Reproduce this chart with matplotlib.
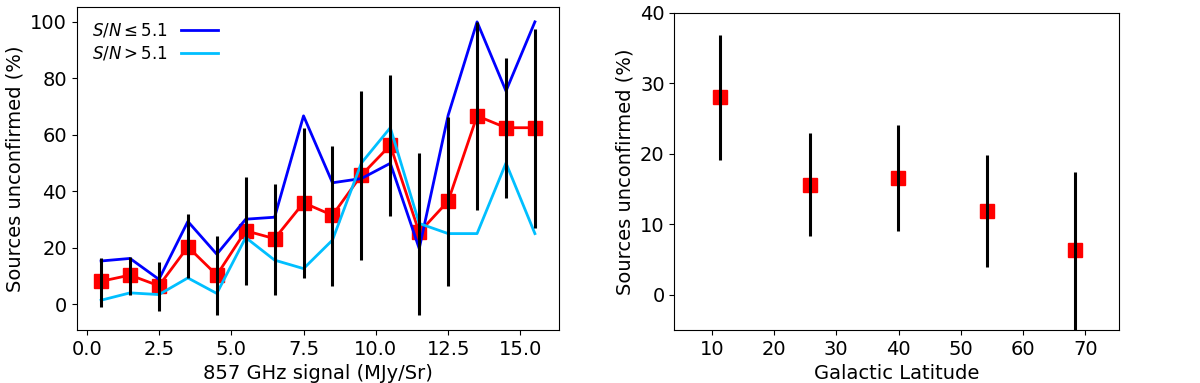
import numpy as np
import matplotlib
matplotlib.use('Agg')
import matplotlib.pyplot as plt

# левая панель: доля неподтверждённых источников по сигналу 857 ГГц
signal = [0.5, 1.5, 2.5, 3.5, 4.5, 5.5, 6.5, 7.5, 8.5, 9.5, 10.5, 11.5, 12.5, 13.5, 14.5, 15.5]
frac_all = [8.1, 10.3, 6.5, 20.3, 10.3, 26.0, 23.2, 35.9, 31.5, 45.7, 56.3, 25.4, 36.5, 66.7, 62.5, 62.5]
err_hi = [16.5, 16.8, 15.0, 31.9, 24.1, 45.1, 42.7, 62.4, 56.2, 75.5, 81.1, 53.7, 66.3, 99.9, 87.3, 97.6]
err_lo = [-0.9, 3.2, -2.5, 9.4, -3.9, 6.7, 3.4, 9.1, 6.4, 15.6, 31.3, -3.7, 6.4, 33.3, 37.6, 27.1]
frac_low_sn = [15.3, 16.2, 8.8, 29.3, 17.7, 30.1, 30.8, 66.7, 43.0, 44.5, 49.9, 19.7, 66.9, 100, 75.5, 100]
frac_high_sn = [1.4, 4.0, 3.4, 9.3, 3.8, 23.6, 15.6, 12.6, 22.7, 50.0, 62.5, 28.6, 25.0, 25.0, 50.0, 25.0]

# правая панель: по галактической широте
latitude = [11.4, 25.7, 39.9, 54.2, 68.4]
frac_lat = [28.0, 15.6, 16.5, 11.9, 6.3]
lat_hi = [36.9, 22.9, 24.1, 19.8, 17.4]
lat_lo = [19.1, 8.3, 9.1, 4.0, -6.0]

plt.rcParams['font.size'] = 14

fig = plt.figure(figsize=(12, 3.83), dpi=100)
ax1 = fig.add_axes([0.064, 0.138, 0.402, 0.844])
ax2 = fig.add_axes([0.562, 0.138, 0.3705, 0.829])

# левая панель
frac_all = np.array(frac_all)
yerr = [frac_all - np.array(err_lo), np.array(err_hi) - frac_all]
ax1.plot(signal, frac_all, color='red', lw=2, marker='s', ms=10, zorder=2)
ax1.plot(signal, frac_low_sn, color='blue', lw=2, label=r'$S/N \leq 5.1$', zorder=3)
ax1.plot(signal, frac_high_sn, color='deepskyblue', lw=2, label=r'$S/N > 5.1$', zorder=3)
ax1.errorbar(signal, frac_all, yerr=yerr, fmt='none', ecolor='black', elinewidth=2.2, capsize=0, zorder=4)
ax1.set_xlim(-0.34, 16.34)
ax1.set_ylim(-9.2, 105.3)
ax1.set_xticks(np.arange(0, 16, 2.5))
ax1.set_xlabel('857 GHz signal (MJy/Sr)')
ax1.set_ylabel('Sources unconfirmed (%)')
ax1.legend(loc='upper left', frameon=False, markerfirst=False, fontsize=12,
           handlelength=2.2, borderaxespad=0.5, labelspacing=0.3)

# правая панель
frac_lat = np.array(frac_lat)
yerr2 = [frac_lat - np.array(lat_lo), np.array(lat_hi) - frac_lat]
ax2.plot(latitude, frac_lat, linestyle='none', color='red', marker='s', ms=10, zorder=2)
ax2.errorbar(latitude, frac_lat, yerr=yerr2, fmt='none', ecolor='black', elinewidth=2.2, capsize=0, zorder=4)
ax2.set_xlim(4, 75.4)
ax2.set_ylim(-5, 40)
ax2.set_xticks([10, 20, 30, 40, 50, 60, 70])
ax2.set_yticks([0, 10, 20, 30, 40])
ax2.set_xlabel('Galactic Latitude')
ax2.set_ylabel('Sources unconfirmed (%)')

plt.savefig('out.png', dpi=100)
